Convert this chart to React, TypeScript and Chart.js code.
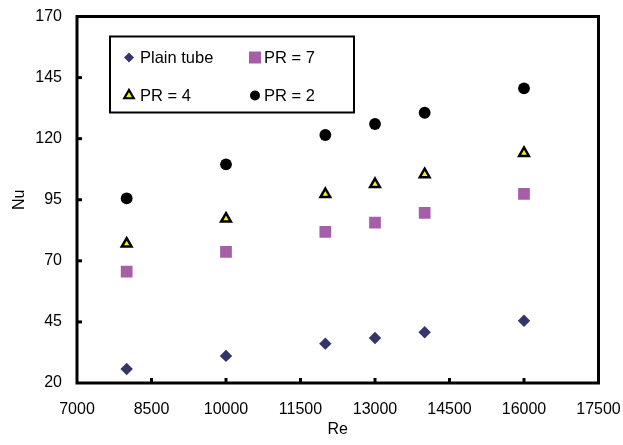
import React, { useEffect, useRef } from 'react';
import { Chart, registerables } from 'chart.js';

Chart.register(...registerables);

const reValues = [8000, 10000, 12000, 13000, 14000, 16000];
const plainTube = [25.7, 31.1, 36.1, 38.4, 40.8, 45.5];
const pr7 = [65.6, 73.7, 81.9, 85.6, 89.6, 97.4];
const pr4 = [77.0, 87.2, 97.3, 101.4, 105.4, 114.1];
const pr2 = [95.6, 109.5, 121.5, 126.0, 130.6, 140.6];
const xTicks = [7000, 8500, 10000, 11500, 13000, 14500, 16000, 17500];
const yTicks = [20, 45, 70, 95, 120, 145, 170];
const seriesLabels = ['Plain tube', 'PR = 7', 'PR = 4', 'PR = 2'];

const FONT = "'Liberation Sans', Arial, sans-serif";

const toPoints = (ys: number[]) => reValues.map((x, i) => ({ x, y: ys[i] }));

const framePlugin = {
  id: 'frame',
  beforeDatasetsDraw(chart: any) {
    const { ctx, chartArea: a, scales } = chart;
    ctx.save();
    ctx.strokeStyle = '#000';
    ctx.lineWidth = 3;
    ctx.lineJoin = 'miter';
    ctx.strokeRect(a.left, a.top, a.right - a.left, a.bottom - a.top);
    const tl = 5;
    scales.x.ticks.forEach((t: any) => {
      const px = scales.x.getPixelForValue(t.value);
      if (px <= a.left + 2 || px >= a.right - 2) return;
      ctx.beginPath();
      ctx.moveTo(px, a.bottom);
      ctx.lineTo(px, a.bottom - tl);
      ctx.stroke();
    });
    scales.y.ticks.forEach((t: any) => {
      const py = scales.y.getPixelForValue(t.value);
      if (py <= a.top + 2 || py >= a.bottom - 2) return;
      ctx.beginPath();
      ctx.moveTo(a.left, py);
      ctx.lineTo(a.left + tl, py);
      ctx.stroke();
    });
    ctx.restore();
  },
};

function drawMarker(ctx: CanvasRenderingContext2D, kind: string, x: number, y: number, r: number, fill: string, stroke: string, bw: number) {
  ctx.beginPath();
  if (kind === 'diamond') {
    ctx.moveTo(x, y - r);
    ctx.lineTo(x + r, y);
    ctx.lineTo(x, y + r);
    ctx.lineTo(x - r, y);
    ctx.closePath();
  } else if (kind === 'square') {
    ctx.rect(x - r, y - r, 2 * r, 2 * r);
  } else if (kind === 'triangle') {
    const h = r * Math.sqrt(3) / 2;
    ctx.moveTo(x, y - r);
    ctx.lineTo(x + h, y + r / 2);
    ctx.lineTo(x - h, y + r / 2);
    ctx.closePath();
  } else {
    ctx.arc(x, y, r, 0, Math.PI * 2);
  }
  ctx.fillStyle = fill;
  ctx.fill();
  if (bw > 0) {
    ctx.strokeStyle = stroke;
    ctx.lineWidth = bw;
    ctx.lineJoin = 'miter';
    ctx.stroke();
  }
}

const legendPlugin = {
  id: 'boxLegend',
  afterDraw(chart: any) {
    const { ctx, chartArea: a } = chart;
    const left = a.left + 33;
    const top = a.top + 20;
    const w = 244;
    const h = 76;
    ctx.save();
    ctx.fillStyle = '#fff';
    ctx.fillRect(left, top, w, h);
    ctx.strokeStyle = '#000';
    ctx.lineWidth = 2;
    ctx.strokeRect(left, top, w, h);
    const ds = chart.data.datasets;
    const kinds = ['diamond', 'square', 'triangle', 'circle'];
    const sizes = [5, 6, 5.5, 5];
    const cols = [left + 19, left + 145];
    const rows = [top + 21, top + 59];
    ctx.font = `16.5px ${FONT}`;
    ctx.textBaseline = 'middle';
    ctx.textAlign = 'left';
    ds.forEach((d: any, i: number) => {
      const cx = cols[i % 2];
      const cy = rows[Math.floor(i / 2)];
      drawMarker(ctx, kinds[i], cx, cy, sizes[i], d.pointBackgroundColor, d.pointBorderColor, i === 2 ? 2.2 : 0);
      ctx.fillStyle = '#000';
      ctx.fillText(d.label, cx + (i % 2 === 0 ? 11 : 9), cy + 1);
    });
    ctx.restore();
  },
};

export default function App() {
  const ref = useRef<HTMLCanvasElement>(null);
  useEffect(() => {
    if (!ref.current) return;
    const chart = new Chart(ref.current, {
      type: 'scatter',
      data: {
        datasets: [
          {
            label: seriesLabels[0],
            data: toPoints(plainTube),
            pointStyle: 'rectRot',
            pointRadius: 6.2,
            pointBackgroundColor: '#35356A',
            pointBorderColor: '#35356A',
            pointBorderWidth: 0,
          },
          {
            label: seriesLabels[1],
            data: toPoints(pr7),
            pointStyle: 'rect',
            pointRadius: 8.3,
            pointBackgroundColor: '#A65EA8',
            pointBorderColor: '#A65EA8',
            pointBorderWidth: 0,
          },
          {
            label: seriesLabels[2],
            data: toPoints(pr4),
            pointStyle: 'triangle',
            pointRadius: 5.6,
            pointBackgroundColor: '#F2F21A',
            pointBorderColor: '#000000',
            pointBorderWidth: 2.5,
          },
          {
            label: seriesLabels[3],
            data: toPoints(pr2),
            pointStyle: 'circle',
            pointRadius: 5.9,
            pointBackgroundColor: '#000000',
            pointBorderColor: '#000000',
            pointBorderWidth: 0,
          },
        ],
      },
      options: {
        responsive: false,
        animation: false,
        devicePixelRatio: 1,
        layout: { padding: { left: 0, right: 24.5, top: 16.5, bottom: 0 } },
        plugins: { legend: { display: false }, tooltip: { enabled: false } },
        scales: {
          x: {
            type: 'linear',
            min: 7000,
            max: 17500,
            afterBuildTicks: (s: any) => {
              s.ticks = xTicks.map((v) => ({ value: v }));
            },
            afterFit: (s: any) => {
              s.height = 62;
              s.paddingLeft = 0;
              s.paddingRight = 0;
            },
            ticks: {
              autoSkip: false,
              maxRotation: 0,
              padding: 17,
              color: '#000',
              font: { family: FONT, size: 16 },
              callback: (v: any) => String(v),
            },
            grid: { display: false, drawTicks: false },
            border: { display: false },
            title: {
              display: true,
              text: 'Re',
              color: '#000',
              font: { family: FONT, size: 16 },
              padding: { top: 0, bottom: 6 },
            },
          },
          y: {
            type: 'linear',
            min: 20,
            max: 170,
            afterBuildTicks: (s: any) => {
              s.ticks = yTicks.map((v) => ({ value: v }));
            },
            afterFit: (s: any) => {
              s.width = 77;
              s.paddingTop = 0;
              s.paddingBottom = 0;
            },
            ticks: {
              autoSkip: false,
              padding: 15,
              color: '#000',
              font: { family: FONT, size: 16 },
              callback: (v: any) => String(v),
            },
            grid: { display: false, drawTicks: false },
            border: { display: false },
            title: {
              display: true,
              text: 'Nu',
              color: '#000',
              font: { family: FONT, size: 16 },
              padding: { top: 9.5, bottom: 0 },
            },
          },
        },
      },
      plugins: [framePlugin, legendPlugin],
    });
    return () => chart.destroy();
  }, []);
  return (
    <div style={{ position: 'absolute', left: 0, top: 0, width: 623, height: 445, background: '#fff' }}>
      <canvas ref={ref} width={623} height={445} />
    </div>
  );
}
